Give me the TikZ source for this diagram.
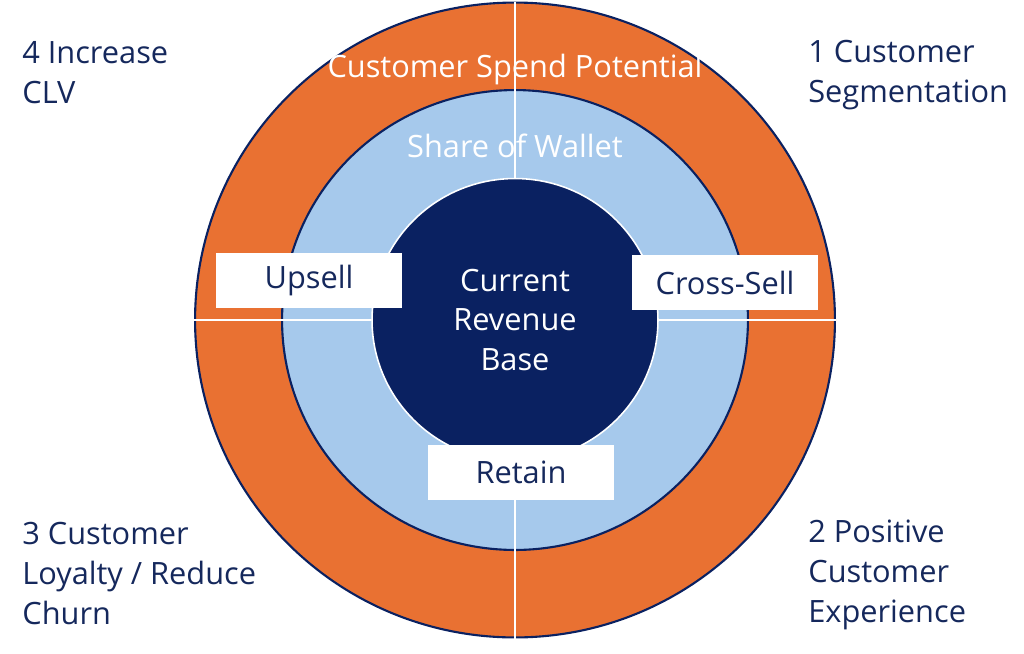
\documentclass[tikz,border=0pt]{standalone}
\usepackage{fontspec}
\setmainfont{Open Sans}
\usetikzlibrary{shapes.geometric}

\definecolor{spendorange}{HTML}{E97132}
\definecolor{walletblue}{HTML}{A6C9EC}
\definecolor{basenavy}{HTML}{0A2161}
\definecolor{labelnavy}{HTML}{15285C}
\newcommand\diagfont{\fontsize{17.5}{22.7}\selectfont}

\begin{document}
\begin{tikzpicture}[x=0.02cm,y=-0.02cm,
  ring/.style={draw,ellipse,inner sep=0pt},
  tag/.style={fill=white,minimum width=3.74cm,minimum height=1.1cm,text=labelnavy,font=\diagfont},
  corner/.style={anchor=base west,align=left,inner sep=0pt,text=labelnavy,font=\diagfont},
  divider/.style={white,line width=1.1pt}]

  \useasboundingbox (0,0) rectangle (1024,653);

  \draw (515,320) node[ring,fill=spendorange,draw=basenavy,line width=1.2pt,minimum width=12.8cm,minimum height=12.7cm] (spend) {};
\draw (515,320) node[ring,fill=walletblue,draw=basenavy,line width=1.2pt,minimum width=9.32cm,minimum height=9.2cm] (wallet) {};
\draw (515,320) node[ring,fill=basenavy,draw=white,line width=0.9pt,minimum width=5.72cm,minimum height=5.66cm,align=center,text=white,font=\diagfont] (revenue) {Current\\Revenue\\Base};

  \draw (309,280.5) node[tag] (upsell) {Upsell};
\draw (725,282.5) node[tag] (crosssell) {Cross-Sell};
\draw (521,472) node[tag] (retain) {Retain};

  \draw[divider] (spend.north) -- (revenue.north);
  \draw[divider] (retain.south -| spend.south) -- (spend.south);
  \draw[divider] (spend.west) -- (revenue.west);
  \draw[divider] (revenue.east) -- (spend.east);

  \draw (515,77) node[anchor=base,text=white,font=\diagfont] (potentiallabel) {Customer Spend Potential};
\draw (515,157) node[anchor=base,text=white,font=\diagfont] (walletlabel) {Share of Wallet};

  % base anchor sits on the last line
  \draw (22,103) node[corner] (clv) {4 Increase\\CLV};
\draw (808,102) node[corner] (segmentation) {1 Customer\\Segmentation};
\draw (22,624) node[corner] (churn) {3 Customer\\Loyalty / Reduce\\Churn};
\draw (808,622) node[corner] (experience) {2 Positive\\Customer\\Experience};

\end{tikzpicture}
\end{document}
